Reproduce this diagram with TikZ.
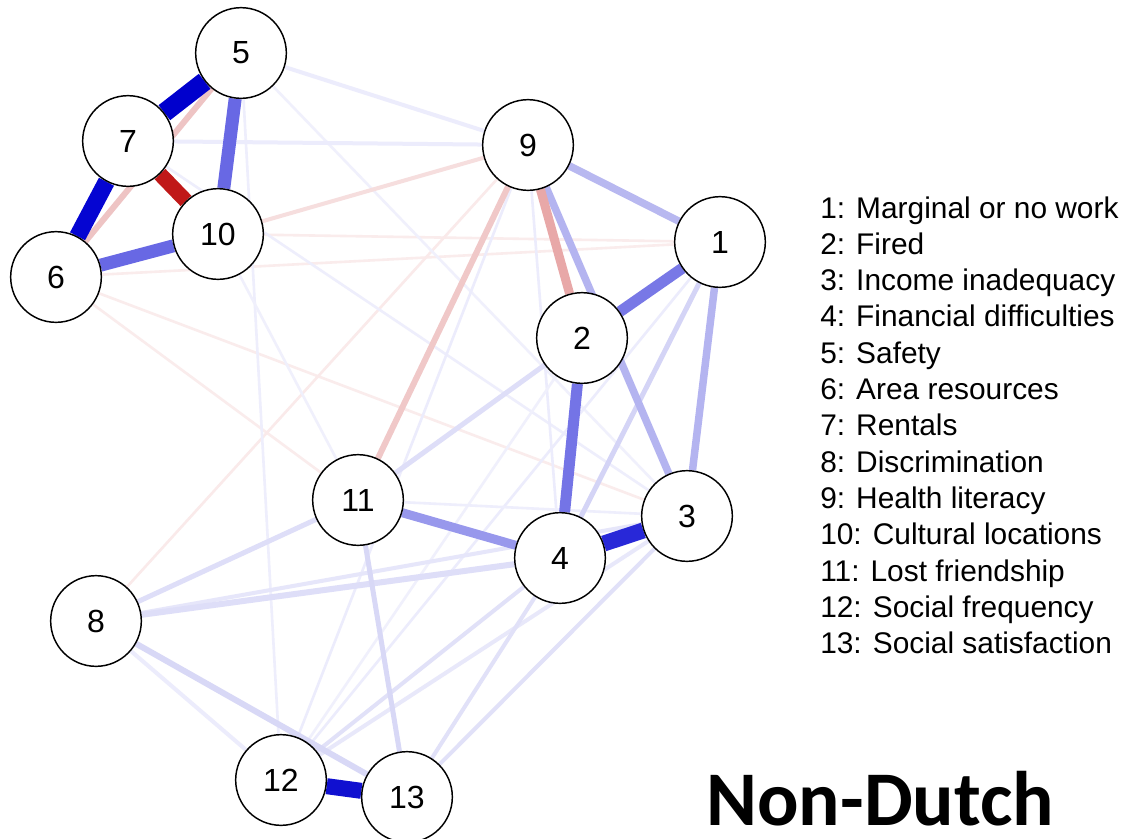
\documentclass[tikz,border=0pt]{standalone}
\usepackage{fontspec}
\setmainfont{Liberation Sans}
\newfontfamily\titlefont{Carlito}
\usetikzlibrary{backgrounds}
\begin{document}
\begin{tikzpicture}[x=0.75pt,y=-0.75pt,
  vnode/.style={circle,draw=black,line width=1.1pt,fill=white,minimum size=68pt,inner sep=0pt,font=\fontsize{24}{24}\selectfont},
  leg/.style={anchor=base west,inner sep=0pt,font=\fontsize{22.4}{22.4}\selectfont},
  ed/.style={line width=#1*0.75pt}]
\useasboundingbox (0,0) rectangle (1125,839);
\node[vnode] (n1) at (720,242) {1};
\node[vnode] (n2) at (582,338) {2};
\node[vnode] (n3) at (687,516) {3};
\node[vnode] (n4) at (560,558) {4};
\node[vnode] (n5) at (241,53) {5};
\node[vnode] (n6) at (56,277) {6};
\node[vnode] (n7) at (128,141) {7};
\node[vnode] (n8) at (96,621) {8};
\node[vnode] (n9) at (528,145) {9};
\node[vnode] (n10) at (218,234) {10};
\node[vnode] (n11) at (358,500) {11};
\node[vnode] (n12) at (281,780) {12};
\node[vnode] (n13) at (407,797) {13};
\begin{pgfonlayer}{background}
\fill[white] (0,0) rectangle (1125,839);
% faint edges
\draw[ed=2.6,draw={rgb,255:red,250;green,236;blue,236}] (n6) -- (n1);
\draw[ed=2.6,draw={rgb,255:red,250;green,236;blue,236}] (n10) -- (n1);
\draw[ed=2.6,draw={rgb,255:red,250;green,236;blue,236}] (n6) -- (n3);
\draw[ed=2.6,draw={rgb,255:red,250;green,236;blue,236}] (n6) -- (n11);
\draw[ed=2.6,draw={rgb,255:red,250;green,234;blue,234}] (n8) -- (n9);
\draw[ed=2.6,draw={rgb,255:red,238;green,238;blue,252}] (n7) -- (n3);
\draw[ed=2.6,draw={rgb,255:red,240;green,240;blue,252}] (n5) -- (n3);
\draw[ed=2.6,draw={rgb,255:red,238;green,238;blue,252}] (n5) -- (n12);
\draw[ed=2.6,draw={rgb,255:red,240;green,240;blue,252}] (n10) -- (n11);
\draw[ed=2.6,draw={rgb,255:red,236;green,236;blue,252}] (n9) -- (n12);
\draw[ed=2.6,draw={rgb,255:red,236;green,236;blue,252}] (n9) -- (n4);
\draw[ed=2.6,draw={rgb,255:red,240;green,240;blue,252}] (n12) -- (n2);
\draw[ed=2.6,draw={rgb,255:red,236;green,236;blue,252}] (n1) -- (n12);
\draw[ed=2.6,draw={rgb,255:red,238;green,238;blue,252}] (n11) -- (n3);
\draw[ed=4,draw={rgb,255:red,236;green,236;blue,252}] (n5) -- (n9);
\draw[ed=4,draw={rgb,255:red,236;green,236;blue,252}] (n7) -- (n9);
\draw[ed=4,draw={rgb,255:red,246;green,222;blue,222}] (n10) -- (n9);
\draw[ed=4,draw={rgb,255:red,236;green,236;blue,252}] (n8) -- (n12);
\draw[ed=4,draw={rgb,255:red,230;green,230;blue,250}] (n8) -- (n3);
\draw[ed=4,draw={rgb,255:red,232;green,232;blue,250}] (n3) -- (n12);
\draw[ed=4,draw={rgb,255:red,225;green,225;blue,248}] (n4) -- (n13);
\draw[ed=4,draw={rgb,255:red,225;green,225;blue,248}] (n3) -- (n13);
\draw[ed=4,draw={rgb,255:red,225;green,225;blue,248}] (n4) -- (n12);
\draw[ed=6,draw={rgb,255:red,238;green,196;blue,196}] (n5) -- (n6);
% medium edges
\draw[ed=5,draw={rgb,255:red,222;green,222;blue,248}] (n2) -- (n11);
\draw[ed=5,draw={rgb,255:red,222;green,222;blue,248}] (n8) -- (n11);
\draw[ed=6,draw={rgb,255:red,222;green,222;blue,248}] (n8) -- (n4);
\draw[ed=6,draw={rgb,255:red,216;green,216;blue,246}] (n8) -- (n13);
\draw[ed=5,draw={rgb,255:red,216;green,216;blue,246}] (n11) -- (n13);
\draw[ed=5,draw={rgb,255:red,212;green,212;blue,246}] (n1) -- (n4);
\draw[ed=6,draw={rgb,255:red,240;green,200;blue,200}] (n9) -- (n11);
\draw[ed=7.5,draw={rgb,255:red,184;green,184;blue,240}] (n9) -- (n1);
\draw[ed=7.5,draw={rgb,255:red,180;green,180;blue,240}] (n1) -- (n3);
\draw[ed=7.5,draw={rgb,255:red,180;green,180;blue,240}] (n9) -- (n3);
\draw[ed=9,draw={rgb,255:red,232;green,168;blue,168}] (n9) -- (n2);
\draw[ed=9,draw={rgb,255:red,152;green,152;blue,236}] (n11) -- (n4);
% strong edges
\draw[ed=11,draw={rgb,255:red,120;green,120;blue,230}] (n1) -- (n2);
\draw[ed=11,draw={rgb,255:red,116;green,116;blue,230}] (n2) -- (n4);
\draw[ed=13,draw={rgb,255:red,104;green,104;blue,228}] (n5) -- (n10);
\draw[ed=13,draw={rgb,255:red,104;green,104;blue,228}] (n6) -- (n10);
\draw[ed=15,draw={rgb,255:red,192;green,24;blue,24}] (n7) -- (n10);
\draw[ed=16,draw={rgb,255:red,40;green,40;blue,216}] (n3) -- (n4);
\draw[ed=16,draw={rgb,255:red,16;green,16;blue,208}] (n12) -- (n13);
\draw[ed=19,draw={rgb,255:red,0;green,0;blue,205}] (n5) -- (n7);
\draw[ed=17,draw={rgb,255:red,5;green,5;blue,210}] (n6) -- (n7);
\end{pgfonlayer}
% legend
\node[leg] (l1) at (820,218.0) {1: Marginal or no work};
\node[leg] (l2) at (820,254.3) {2: Fired};
\node[leg] (l3) at (820,290.6) {3: Income inadequacy};
\node[leg] (l4) at (820,326.9) {4: Financial difficulties};
\node[leg] (l5) at (820,363.2) {5: Safety};
\node[leg] (l6) at (820,399.5) {6: Area resources};
\node[leg] (l7) at (820,435.8) {7: Rentals};
\node[leg] (l8) at (820,472.1) {8: Discrimination};
\node[leg] (l9) at (820,508.4) {9: Health literacy};
\node[leg] (l10) at (820,544.7) {10: Cultural locations};
\node[leg] (l11) at (820,581.0) {11: Lost friendship};
\node[leg] (l12) at (820,617.3) {12: Social frequency};
\node[leg] (l13) at (820,653.6) {13: Social satisfaction};
\node[anchor=base west,inner sep=0pt,text depth=0pt,font=\titlefont\fontsize{58}{58}\selectfont\bfseries] (title) at (706,825) {Non-Dutch};
\end{tikzpicture}
\end{document}
